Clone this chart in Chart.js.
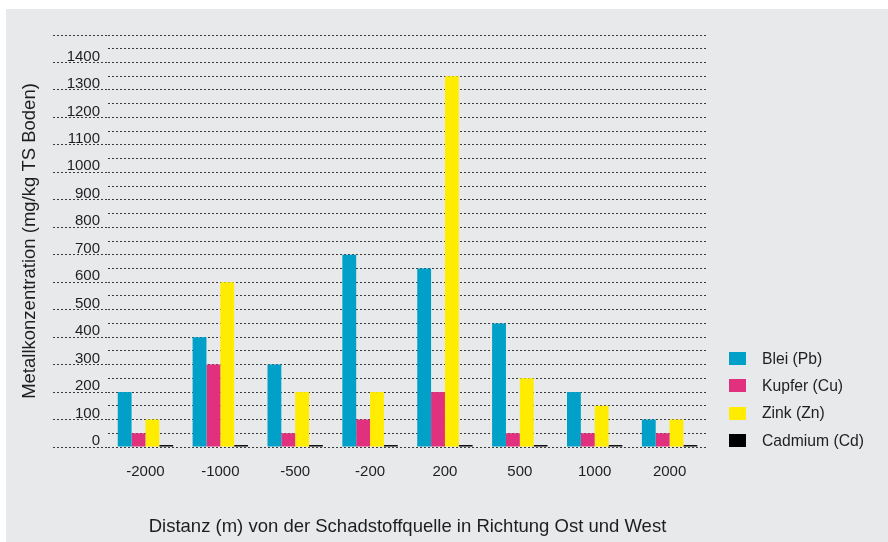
<!DOCTYPE html>
<html>
<head>
<meta charset="utf-8">
<script src="https://cdn.jsdelivr.net/npm/chart.js@4/dist/chart.umd.min.js"></script>
<style>
  html, body { margin: 0; padding: 0; background: #ffffff; overflow: hidden; }
  #wrap { width: 888px; height: 542px; }
</style>
</head>
<body>
<div id="wrap"><canvas id="c" width="888" height="542"></canvas></div>
<script>
const categories = ['-2000', '-1000', '-500', '-200', '200', '500', '1000', '2000'];
const seriesNames = ['Blei (Pb)', 'Kupfer (Cu)', 'Zink (Zn)', 'Cadmium (Cd)'];
const blei    = [200, 400, 300, 700, 650, 450, 200, 100];
const kupfer  = [50, 300, 50, 100, 200, 50, 50, 50];
const zink    = [100, 600, 200, 200, 1350, 250, 150, 100];
const cadmium = [7, 7, 7, 7, 7, 7, 7, 7];
const yMin = 0, yMax = 1500, yStep = 50, yLabelStep = 100, yLabelMax = 1400;

const colors = ['#00a0c8', '#e0307e', '#ffec00', '#000000'];
const FONT = '"Liberation Sans", Arial, Helvetica, sans-serif';
const TEXT = '#1e1e1e';
const GRID = '#3a3a3a';

const panelBg = {
  id: 'panelBg',
  beforeDraw(chart) {
    const ctx = chart.ctx;
    ctx.save();
    ctx.fillStyle = '#ffffff';
    ctx.fillRect(0, 0, chart.width, chart.height);
    ctx.fillStyle = '#e8e9eb';
    ctx.fillRect(6, 9, chart.width - 6, chart.height - 9);
    ctx.restore();
  }
};

const sideLegend = {
  id: 'sideLegend',
  afterDraw(chart) {
    const ctx = chart.ctx;
    ctx.save();
    ctx.font = '15.7px ' + FONT;
    ctx.textBaseline = 'middle';
    ctx.textAlign = 'left';
    chart.data.datasets.forEach((ds, i) => {
      const cy = 358.5 + i * 27.3;
      ctx.fillStyle = ds.backgroundColor;
      ctx.fillRect(729, Math.round(cy - 6.5), 17, 13);
      ctx.fillStyle = TEXT;
      ctx.fillText(ds.label, 762, cy + 1);
    });
    ctx.restore();
  }
};

const datasets = [blei, kupfer, zink, cadmium].map((arr, i) => ({
  label: seriesNames[i],
  data: arr,
  backgroundColor: colors[i],
  borderWidth: 0,
  categoryPercentage: 0.74,
  barPercentage: 1.0
}));

new Chart(document.getElementById('c'), {
  type: 'bar',
  data: { labels: categories, datasets },
  plugins: [panelBg, sideLegend],
  options: {
    responsive: false,
    animation: false,
    devicePixelRatio: 1,
    layout: { padding: { left: 17, top: 35, right: 181, bottom: 4 } },
    plugins: {
      legend: { display: false },
      tooltip: { enabled: false },
      title: { display: false }
    },
    scales: {
      x: {
        grid: { display: false, drawTicks: false },
        border: { display: false },
        ticks: { color: TEXT, font: { family: FONT, size: 15 }, padding: 16, maxRotation: 0 },
        title: {
          display: true,
          text: 'Distanz (m) von der Schadstoffquelle in Richtung Ost und West',
          color: TEXT,
          font: { family: FONT, size: 18.5 },
          padding: { top: 0, bottom: 0 }
        },
        afterFit(s) { s.height = 91; }
      },
      y: {
        z: 1,
        min: yMin,
        max: yMax,
        grid: {
          color: GRID,
          lineWidth: 1,
          drawTicks: true,
          tickLength: 55,
          tickWidth: 1,
          tickBorderDash: [2, 2],
          tickColor: (c) => (c.tick && c.tick.value % yLabelStep === 0) ? GRID : 'rgba(0,0,0,0)'
        },
        border: { display: false, dash: [2, 2] },
        ticks: {
          stepSize: yStep,
          autoSkip: false,
          color: TEXT,
          font: { family: FONT, size: 15 },
          padding: -47,
          labelOffset: -6,
          callback: (v) => (v % yLabelStep === 0 && v <= yLabelMax) ? String(v) : ''
        },
        title: {
          display: true,
          text: 'Metallkonzentration (mg/kg TS Boden)',
          color: TEXT,
          font: { family: FONT, size: 18.5 },
          padding: { top: 2, bottom: 0 }
        },
        afterFit(s) { s.width = 91; }
      }
    }
  }
});
</script>
</body>
</html>
